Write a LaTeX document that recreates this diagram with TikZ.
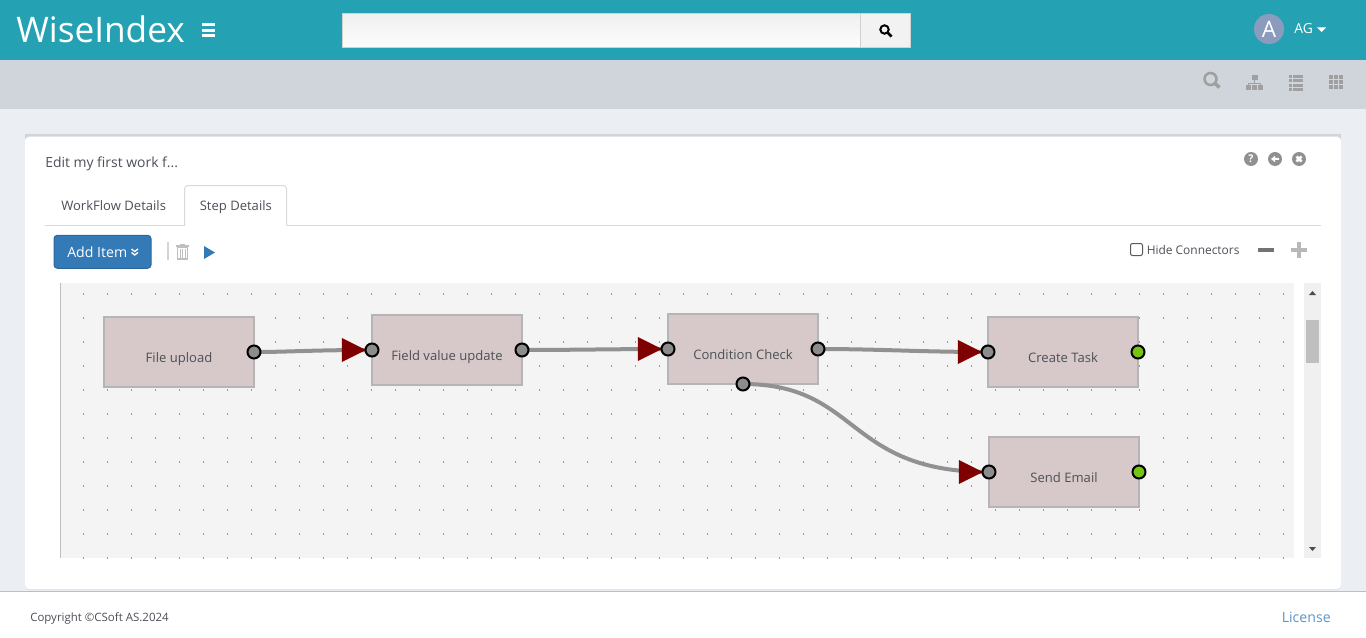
\documentclass[tikz,border=0pt]{standalone}
\usepackage{fontspec}
\setmainfont{Open Sans}
\usetikzlibrary{shapes.geometric}
\definecolor{teal1}{HTML}{24A2B3}
\definecolor{band}{HTML}{D0D4DB}
\definecolor{pagebg}{HTML}{EBEEF3}
\definecolor{canvas}{HTML}{F4F4F4}
\definecolor{boxfill}{HTML}{D7C9C9}
\definecolor{boxline}{HTML}{B5B5B5}
\definecolor{wire}{HTML}{919191}
\definecolor{portg}{HTML}{8C8C8C}
\definecolor{portv}{HTML}{76C410}
\definecolor{txt}{HTML}{4C5057}
\definecolor{icon}{HTML}{A0A0A0}
\definecolor{btn}{HTML}{337AB7}
\definecolor{tip}{HTML}{7F0000}
\definecolor{avatarc}{HTML}{8A9BBD}
\tikzset{
 stepbox/.style={draw=boxline,line width=1.5pt,fill=boxfill,minimum width=150.5*0.75pt,minimum height=69.5*0.75pt,inner sep=0pt},
 steplabel/.style={anchor=base,text=txt,font=\fontsize{9.8}{11}\selectfont,inner sep=0pt},
 portin/.style={circle,draw=black,line width=1.5pt,fill=portg,minimum size=13*0.75pt,inner sep=0pt},
 portout/.style={circle,draw=black,line width=1.5pt,fill=portv,minimum size=13*0.75pt,inner sep=0pt},
 arrowhead/.style={isosceles triangle,isosceles triangle apex angle=53,fill=tip,inner sep=0pt,minimum height=24*0.75pt,minimum width=24*0.75pt,shape border rotate=0},
 wireline/.style={draw=wire,line width=3pt},
 uitext/.style={text=txt,inner sep=0pt,font=\fontsize{9.8}{11}\selectfont},
}
\begin{document}
\begin{tikzpicture}[x=0.75pt,y=-0.75pt]
\useasboundingbox (0,0) rectangle (1366,638);
% backgrounds
\fill[pagebg] (0,0) rectangle (1366,638);
\fill[teal1] (0,0) rectangle (1366,60);
\fill[band] (0,60) rectangle (1366,109);
\fill[white] (0,591) rectangle (1366,638);
\fill[band!90!black] (0,590.5) rectangle (1366,591.7);
% header
\node[anchor=base west,text=white,inner sep=0pt,font=\fontsize{26.4}{30}\selectfont] (logo) at (16,43) {WiseIndex};
\foreach \yy in {23.5,29,34.5}{\fill[white] (201.5,\yy) rectangle (215,\yy+3);}
\node[draw=white!82!black,top color=white!94!black,bottom color=white!99!black,line width=0.75pt,minimum width=519*0.75pt,minimum height=34*0.75pt,inner sep=0pt] (search) at (601.5,30.5) {};
\node[draw=white!82!black,fill=white!95!black,line width=0.75pt,minimum width=49.5*0.75pt,minimum height=34*0.75pt,inner sep=0pt] (searchbtn) at (885.7,30.5) {};
\draw[black,line width=1.5pt] (884.5,29.5) circle (4.2);
\draw[black,line width=1.9pt] (887.8,32.8) -- (891.5,36.5);
\node[circle,fill=avatarc,minimum size=30*0.75pt,inner sep=0pt,text=white,font=\fontsize{17}{20}\selectfont] (avatar) at (1269,29) {A};
\node[anchor=base west,text=white,inner sep=0pt,font=\fontsize{10.4}{12}\selectfont] (ag) at (1294,34) {AG};
\fill[white] (1317,27.5) -- (1326,27.5) -- (1321.5,32) -- cycle;
% toolbar icons
\draw[icon,line width=1.9pt] (1210.5,79) circle (6);
\draw[icon,line width=2.6pt] (1215,83.5) -- (1219.5,87.5);
\fill[icon] (1251.5,75.5) rectangle (1257.5,80.5);
\fill[icon] (1254,80.5) rectangle (1255,84);
\draw[icon,line width=0.75pt] (1248.5,85.5) -- (1248.5,83.3) -- (1260.5,83.3) -- (1260.5,85.5);
\foreach \xx in {1246,1252,1258}{\fill[icon] (\xx,85.5) rectangle (\xx+5,90);}
\foreach \yy in {75,79.5,84,88}{\fill[icon] (1289,\yy) rectangle (1292,\yy+2.6);\fill[icon] (1293,\yy) rectangle (1303,\yy+2.6);}
\foreach \xx in {1329,1334,1339}{\foreach \yy in {75,80,85}{\fill[icon] (\xx,\yy) rectangle (\xx+3.8,\yy+3.8);}}
% card
\fill[band] (25,134) rectangle (1341,140);
\fill[band!70!white,rounded corners=3pt] (25,136) rectangle (1341,590);
\fill[white,rounded corners=3pt] (25,137) -- (25,589) -- (1341,589) -- (1341,137) -- cycle;
\node[anchor=base west,uitext,font=\fontsize{10.45}{12}\selectfont] (title) at (45,167) {Edit my first work f...};
% help icons
\foreach \xx in {1251,1275,1299}{\fill[icon!90!black] (\xx,159) circle (7);}
\node[text=white,inner sep=0pt,font=\fontsize{8}{9}\selectfont\bfseries] (ihelp) at (1251,159) {?};
\fill[white] (1271,159) -- (1275,155.8) -- (1275,158) -- (1279,158) -- (1279,160) -- (1275,160) -- (1275,162.2) -- cycle;
\draw[white,line width=2pt] (1296.5,156.5) -- (1301.5,161.5) (1301.5,156.5) -- (1296.5,161.5);
% tabs
\draw[white!85!black,line width=0.75pt] (45,225.5) -- (1321,225.5);
\fill[white] (184.5,186) rectangle (286.5,227);
\draw[white!85!black,line width=0.75pt,rounded corners=2.5pt] (184.5,225.5) -- (184.5,185.5) -- (286.5,185.5) -- (286.5,225.5);
\node[anchor=base west,uitext] (tab1) at (61,210) {WorkFlow Details};
\node[anchor=base west,uitext] (tab2) at (199.5,210) {Step Details};
% add item
\node[fill=btn,draw=btn!85!black,line width=0.75pt,rounded corners=2.5pt,minimum width=97*0.75pt,minimum height=33*0.75pt,inner sep=0pt] (add) at (102.5,251.8) {};
\node[anchor=base west,text=white,inner sep=0pt,font=\fontsize{10.6}{12}\selectfont] (addt) at (67,257) {Add Item};
\draw[white,line width=1pt] (131.5,249) -- (134.7,251.5) -- (138,249) (131.5,252.5) -- (134.7,255) -- (138,252.5);
\fill[band] (167,242) rectangle (169,260);
\fill[white!75!black] (176,245) rectangle (189,246.5);
\fill[white!75!black] (180,243.5) rectangle (185,245);
\draw[white!75!black,line width=0.8pt] (177.5,247.5) rectangle (187.5,259);
\foreach \xx in {180,182.5,185}{\draw[white!75!black,line width=0.7pt] (\xx,249) -- (\xx,257.5);}
\fill[btn] (204,246) -- (215,252.5) -- (204,259) -- cycle;
% right controls
\node[draw=black!65,fill=white,line width=0.75pt,rounded corners=1.5pt,minimum size=12*0.75pt,inner sep=0pt] (chk) at (1136.5,249.5) {};
\node[anchor=base west,uitext,font=\fontsize{8.95}{11}\selectfont] (hide) at (1146.5,254) {Hide Connectors};
\fill[black!55] (1257.5,247.5) rectangle (1273.5,251.5);
\fill[white!72!black] (1291,247.5) rectangle (1307,251.8);
\fill[white!72!black] (1297,241.5) rectangle (1301,257.5);
% canvas
\fill[canvas] (60.5,283) rectangle (1294,558);
\draw[white!75!black,line width=0.75pt] (60.5,283) -- (60.5,558);
\begin{scope}
\clip (60.5,283) rectangle (1294,558);
\foreach \i in {0,...,50}{\foreach \j in {0,...,11}{\fill[black!38] ({83.5+24*\i-0.9},{293.7+24*\j-0.9}) rectangle ++(1.8,1.8);}}
\end{scope}
% scrollbar
\fill[white!94!black] (1304,283) rectangle (1321,558);
\fill[white!75!black] (1306,320) rectangle (1319,363);
\fill[black!70] (1309,295) -- (1316,295) -- (1312.5,291) -- cycle;
\fill[black!70] (1309,547) -- (1316,547) -- (1312.5,551) -- cycle;
% footer
\node[anchor=base west,uitext,font=\fontsize{8.6}{10}\selectfont] (copy) at (30,621) {Copyright ©CSoft AS.2024};
\node[anchor=base east,inner sep=0pt,text=btn!80!white,font=\fontsize{10.6}{12}\selectfont] (lic) at (1331,622) {License};
% steps
\node[stepbox] (s1) at (179,352) {};
\node[stepbox] (s2) at (447,350) {};
\node[stepbox] (s3) at (743,349) {};
\node[stepbox] (s4) at (1063,352) {};
\node[stepbox] (s5) at (1064,472) {};
\node[steplabel] (l1) at (179,362) {File upload};
\node[steplabel] (l2) at (447,360) {Field value update};
\node[steplabel] (l3) at (743,359) {Condition Check};
\node[steplabel] (l4) at (1063,362) {Create Task};
\node[steplabel] (l5) at (1064,482) {Send Email};
% ports
\coordinate (p1o) at (254,352);
\coordinate (p2i) at (372,350);
\coordinate (p2o) at (522,350);
\coordinate (p3i) at (668,349);
\coordinate (p3o) at (818,349);
\coordinate (p3b) at (743,384);
\coordinate (p4i) at (988,352);
\coordinate (p5i) at (989,472);
% connectors
\draw[wireline] (p1o) .. controls (290,352) and (310,350) .. (p2i);
\draw[wireline] (p2o) .. controls (570,350) and (620,349) .. (p3i);
\draw[wireline] (p3o) .. controls (880,349) and (920,352) .. (p4i);
\draw[wireline] (p3b) .. controls (860,384) and (845,472) .. (p5i);
% arrowheads
\node[arrowhead,anchor=apex] (a1) at (366.5,350) {};
\node[arrowhead,anchor=apex] (a2) at (662.5,349) {};
\node[arrowhead,anchor=apex] (a3) at (982.5,352) {};
\node[arrowhead,anchor=apex] (a4) at (983.5,472) {};
% port circles
\node[portin] (c1) at (p1o) {};
\node[portin] (c2) at (p2i) {};
\node[portin] (c3) at (p2o) {};
\node[portin] (c4) at (p3i) {};
\node[portin] (c5) at (p3o) {};
\node[portin] (c6) at (p3b) {};
\node[portin] (c7) at (p4i) {};
\node[portin] (c8) at (p5i) {};
\node[portout] (c9) at (1138,352) {};
\node[portout] (c10) at (1139,472) {};
\end{tikzpicture}
\end{document}
